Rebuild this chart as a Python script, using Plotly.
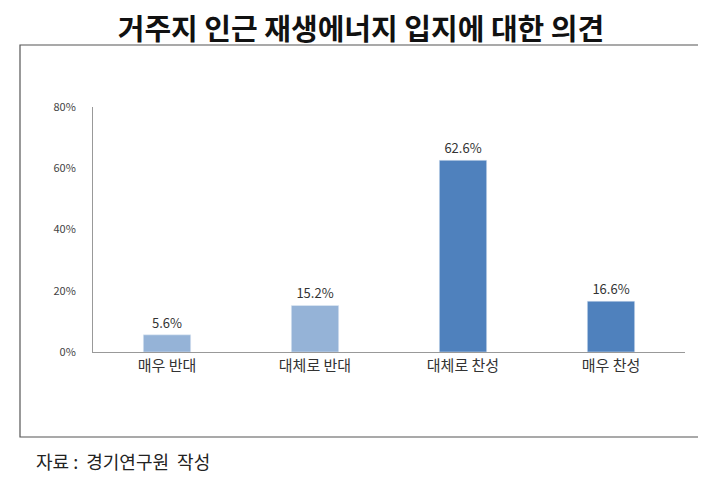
import plotly.graph_objects as go

categories = ["매우 반대", "대체로 반대", "대체로 찬성", "매우 찬성"]
values = [0.056, 0.152, 0.626, 0.166]
labels = ["5.6%", "15.2%", "62.6%", "16.6%"]
colors = ["#95B3D7", "#95B3D7", "#4F81BD", "#4F81BD"]

fig = go.Figure(go.Bar(
    x=categories, y=values, text=labels, textposition="outside",
    marker_color=colors, width=0.32, cliponaxis=False,
    textfont=dict(size=13, color="#333", family="Noto Sans CJK KR"),
))
H = 245
fig.update_layout(
    width=706, height=481,
    margin=dict(l=85, r=29, t=99, b=137, autoexpand=False),
    plot_bgcolor="white", paper_bgcolor="white",
    showlegend=False,
    font=dict(family="Noto Sans CJK KR", color="#333"),
    title=dict(text="<b>거주지 인근 재생에너지 입지에 대한 의견</b>", x=0.5, xanchor="center",
               y=0.955, yanchor="middle", font=dict(size=29, color="#111")),
    yaxis=dict(range=[0, 0.8], dtick=0.2, tickformat=".0%", showgrid=False,
               showline=True, linecolor="#999", linewidth=1, ticks="",
               ticklabelstandoff=14,
               tickfont=dict(size=11, color="#444"), zeroline=False),
    xaxis=dict(showline=True, linecolor="#999", linewidth=1, ticks="",
               tickfont=dict(size=15, color="#333")),
    shapes=[dict(type="rect", xref="paper", yref="paper",
                 x0=(12-85)/592, x1=(692-85)/592, y0=(352-437)/H, y1=(352-45)/H,
                 line=dict(color="#555", width=1.2), fillcolor="rgba(0,0,0,0)")],
    annotations=[dict(text="자료 :  경기연구원  작성", xref="paper", yref="paper",
                      x=(26-85)/592, y=(352-461)/H, xanchor="left", yanchor="middle",
                      showarrow=False, font=dict(size=18, color="#222"))],
)
fig.write_html("out.html")
